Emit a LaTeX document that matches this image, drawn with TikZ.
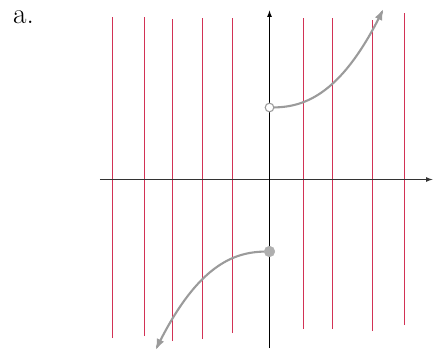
\documentclass[tikz,border=0pt]{standalone}
\usepackage{tikz}
\usetikzlibrary{arrows.meta}
\definecolor{gridred}{RGB}{210,50,85}
\definecolor{curvegray}{RGB}{155,155,155}

\begin{document}
\begin{tikzpicture}[scale=0.3,>=latex]
  \useasboundingbox (-26.95,-17.25) rectangle (16.45,17.95);
  \node (lbl) at (-24.6,16.2) {\fontsize{25}{30}\selectfont a.};
  \draw[gridred,line width=0.8pt] (-15.75,-15.85) -- (-15.75,16.2);
  \draw[gridred,line width=0.8pt] (-12.55,-15.65) -- (-12.55,16.2);
  \draw[gridred,line width=0.8pt] (-9.75,-16.15) -- (-9.75,16.0);
  \draw[gridred,line width=0.8pt] (-6.75,-15.95) -- (-6.75,16.1);
  \draw[gridred,line width=0.8pt] (-3.75,-15.35) -- (-3.75,16.1);
  \draw[gridred,line width=0.8pt] (3.35,-14.95) -- (3.35,16.1);
  \draw[gridred,line width=0.8pt] (6.25,-14.95) -- (6.25,16.1);
  \draw[gridred,line width=0.8pt] (10.25,-15.15) -- (10.25,15.9);
  \draw[gridred,line width=0.8pt] (13.45,-14.55) -- (13.45,16.6);
  \draw[black!80,line width=0.9pt,->] (-16.95,0) -- (16.3,0);
  \draw[line width=0.9pt,->] (0,-16.85) -- (0,16.9);
  \draw[curvegray,line width=1.8pt,-{Latex[length=3.4mm,width=2.4mm]},domain=0.4:11.4,smooth,samples=60] plot (\x, {7.2+0.0287*pow(\x,2.4)});
  \draw[curvegray,line width=1.8pt,-{Latex[length=3.4mm,width=2.4mm]},domain=0.5:11.4,smooth,samples=60] plot (-\x, {-7.2-0.0287*pow(\x,2.4)});
  \node[circle,draw=curvegray,fill=white,line width=0.9pt,inner sep=0pt,minimum size=2.6mm] (open) at (0,7.2) {};
  \node[circle,draw=curvegray!80,fill=curvegray!80,inner sep=0pt,minimum size=3.2mm] (closed) at (0,-7.2) {};
\end{tikzpicture}
\end{document}
